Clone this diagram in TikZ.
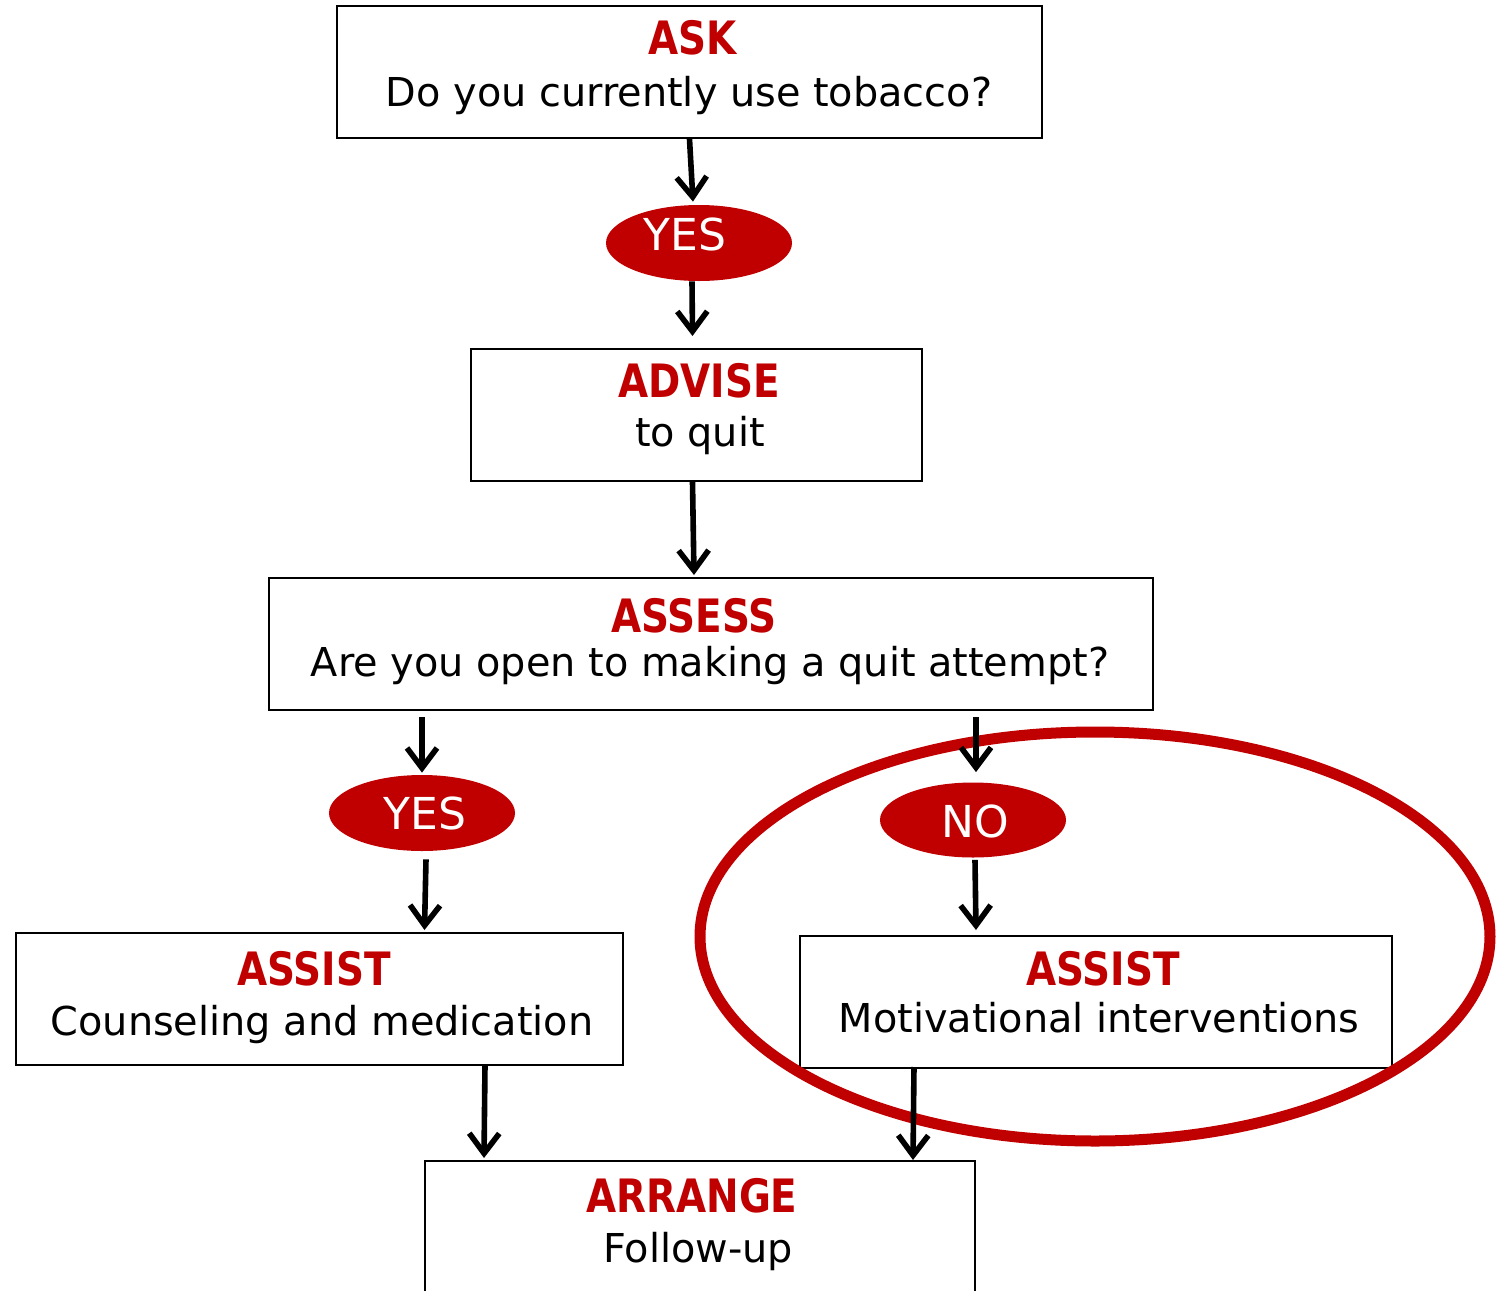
\documentclass[tikz,border=0pt]{standalone}
\usepackage{fontspec}
\setmainfont{DejaVu Sans}
\newfontfamily\titlefont[FakeStretch=0.94]{DejaVu Sans Condensed}
\usetikzlibrary{shapes.geometric,arrows.meta}
\definecolor{ared}{HTML}{C00000}
\tikzset{
  box/.style={draw=black, line width=1pt, fill=white, inner sep=0pt, minimum height=66pt},
  oval/.style={ellipse, fill=ared, draw=none, inner sep=0pt, minimum width=93pt, minimum height=38pt},
  ttl/.style={anchor=base, inner sep=0pt, text=ared, font=\titlefont\bfseries\fontsize{23}{27}\selectfont},
  body/.style={anchor=base, inner sep=0pt, text=black, font=\fontsize{19.9}{24}\selectfont},
  otext/.style={anchor=base, inner sep=0pt, text=white, font=\fontsize{22}{26}\selectfont},
  arr/.style={line width=2.8pt, -{Straight Barb[length=10pt,width=15pt]}},
  hl/.style={ellipse, draw=ared, line width=5.5pt, inner sep=0pt, minimum width=395pt, minimum height=204.5pt}
}
\begin{document}
\begin{tikzpicture}[x=0.5pt,y=-0.5pt]
\useasboundingbox (0,0) rectangle (1506,1291);
\clip (0,0) rectangle (1506,1291);
% boxes
\node[box, minimum width=352.5pt] (ask) at (689.5,72) {};
\node[box, minimum width=225.5pt] (advise) at (696.5,415) {};
\node[box, minimum width=442pt] (assess) at (711,644) {};
\node[box, minimum width=303.5pt] (assistL) at (319.5,999) {};
\node[box, minimum width=296pt] (assistR) at (1096,1002) {};
\node[box, minimum width=275pt, minimum height=85pt] (arrange) at (700,1246) {};
% texts
\node[ttl] (askT) at (693,54) {ASK};
\node[body] (askB) at (689,106) {Do you currently use tobacco?};
\node[ttl] (advT) at (699,397) {ADVISE};
\node[body] (advB) at (700,446) {to quit};
\node[ttl] (assT) at (694,632) {ASSESS};
\node[body] (assB) at (710,676) {Are you open to making a quit attempt?};
\node[ttl] (asLT) at (314,985) {ASSIST};
\node[body] (asLB) at (322,1035) {Counseling and medication};
\node[ttl] (asRT) at (1103,985) {ASSIST};
\node[body] (asRB) at (1099,1032) {Motivational interventions};
\node[ttl] (arrT) at (692,1212) {ARRANGE};
\node[body] (arrB) at (698,1262) {Follow-up};
% ovals
\node[oval] (yes1) at (699,243) {};
\node[otext] (yes1T) at (685,250) {YES};
\node[oval] (yes2) at (422,813) {};
\node[otext] (yes2T) at (425,829) {YES};
\node[oval, minimum height=37.5pt] (no) at (973,820) {};
\node[otext] (noT) at (975,837) {NO};
% highlight
\node[hl] (hilite) at (1095,936.5) {};
% arrows
\draw[arr] (ask.south) -- ([xshift=-3pt,yshift=1.5pt]yes1.north);
\draw[arr] ([xshift=-3.5pt]yes1.south) -- ([xshift=-2pt,yshift=6pt]advise.north);
\draw[arr] ([xshift=-2pt]advise.south) -- ([xshift=-8.5pt,yshift=1pt]assess.north);
\draw[arr] ([xshift=-144.5pt,yshift=-3pt]assess.south) -- ([yshift=1pt]yes2.north);
\draw[arr] ([xshift=2pt,yshift=-4pt]yes2.south) -- ([xshift=52.5pt,yshift=1pt]assistL.north);
\draw[arr] ([xshift=132.5pt,yshift=-3pt]assess.south) -- ([xshift=1.5pt,yshift=5pt]no.north);
\draw[arr] ([xshift=1pt,yshift=-1pt]no.south) -- ([xshift=-60pt,yshift=2.5pt]assistR.north);
\draw[arr] ([xshift=82.75pt,yshift=0.5pt]assistL.south) -- ([xshift=-108pt,yshift=1pt]arrange.north);
\draw[arr] ([xshift=-91pt,yshift=1pt]assistR.south) -- ([xshift=106.5pt]arrange.north);
\end{tikzpicture}
\end{document}
